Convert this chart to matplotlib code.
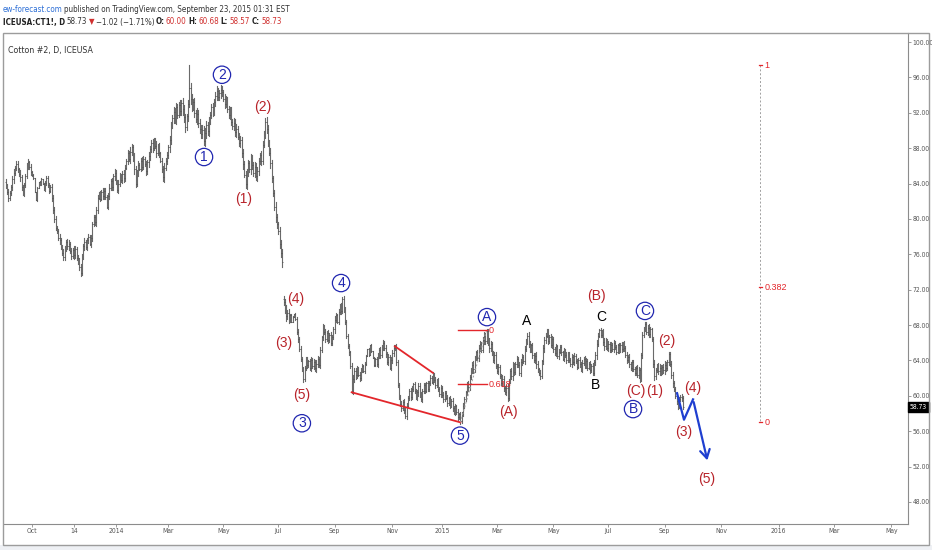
import matplotlib
matplotlib.use('Agg')
import matplotlib.pyplot as plt
import matplotlib.transforms as mtransforms
from matplotlib.collections import LineCollection
from matplotlib.patches import Rectangle
import numpy as np
import pandas as pd

# Daily closes (Cotton #2, ICEUSA, daily)
close_2013 = [83.8, 83.0, 82.4, 82.9, 83.6, 84.5, 85.2, 85.8, 86.2, 85.6,
              85.1, 84.7, 83.6, 82.9, 83.8, 84.9, 86.0, 86.4, 85.9, 85.3,
              85.0, 84.6, 83.0, 82.1, 83.5, 84.2, 83.9, 84.5, 84.0, 83.4,
              84.1, 84.6, 83.8, 83.2, 83.6, 82.4, 81.0, 80.0, 79.0, 78.6,
              77.9, 77.6, 76.8, 76.2, 75.7, 76.6, 77.4, 76.9, 77.2, 76.4,
              75.8, 76.5, 75.9, 76.6, 75.6, 75.2, 74.6, 73.9, 75.8, 76.9,
              77.4, 76.8, 77.6, 78.0, 77.2, 77.8, 79.4, 80.2, 79.6, 81.0,
              82.4, 82.9, 82.3, 83.1, 82.6, 83.2, 82.5, 81.4, 82.6, 83.5,
              84.3, 83.6, 84.8, 85.2]
close_2014 = [84.2, 83.3, 84.0, 84.9, 84.4, 85.1,
              84.6, 85.8, 86.6, 87.4, 86.8, 87.6, 88.1, 86.9, 85.6, 84.0,
              85.2, 86.1, 85.7, 86.6, 85.9, 86.8, 86.2, 85.4, 86.4, 87.1,
              87.9, 88.6, 88.0, 88.9, 88.3, 87.5, 88.2, 87.4, 86.6, 85.6,
              84.7, 85.8, 86.6, 87.2, 88.1, 88.9, 90.6, 91.4, 92.1, 91.2,
              92.6, 91.8, 92.9, 92.2, 93.1, 92.4, 91.5, 90.4, 91.6, 93.0,
              94.8, 93.6, 92.7, 93.2, 92.0, 91.3, 91.9, 90.8, 90.2, 89.6,
              90.1, 88.8, 89.7, 90.6, 89.9, 91.0, 91.8, 92.6, 92.1, 93.2,
              93.9, 94.5, 93.8, 94.2, 94.6, 94.3, 93.6, 93.0, 93.5, 92.4,
              91.8, 92.2, 91.0, 90.5, 90.9, 89.8, 90.2, 89.3, 88.6, 88.9,
              87.4, 86.2, 85.0, 83.9, 85.2, 86.3, 85.6, 86.8, 86.1, 85.2,
              85.9, 84.8, 85.4, 86.5, 87.2, 86.6, 88.4, 89.6, 91.0, 90.2,
              88.6, 87.5, 86.3, 84.6, 82.9, 81.4, 80.2, 79.4, 78.6, 77.2,
              76.1, 75.1, 70.6, 69.8, 69.0, 69.4, 68.6, 69.1, 68.4, 68.9,
              69.3, 68.7, 67.2, 66.4, 65.3, 64.2, 63.0, 61.9, 63.2, 64.1,
              63.5, 63.9, 63.2, 64.0, 63.4, 63.8, 63.1, 63.6, 64.2, 63.5,
              65.2, 66.6, 67.8, 67.2, 66.4, 67.1, 66.3, 66.9, 66.0, 66.7,
              67.5, 68.6, 69.1, 68.4, 69.5, 70.2, 69.6, 71.0, 69.8, 68.3,
              66.8, 65.6, 64.9, 63.4, 60.6, 61.9, 62.8, 62.3, 63.1, 62.4,
              62.0, 62.9, 63.4, 62.8, 63.6, 64.5, 65.3, 64.6, 65.8, 65.1,
              64.3, 63.5, 64.2, 63.6, 64.5, 65.2, 64.6, 65.5, 66.0, 65.4,
              64.7, 63.8, 64.4, 63.2, 64.1, 64.8, 65.4, 65.6, 63.8, 61.2,
              59.9, 59.1, 58.6, 59.3, 58.4, 57.7, 58.9, 59.8, 60.5, 59.9,
              60.8, 61.3, 60.6, 59.8, 60.4, 61.1, 60.2, 59.6, 60.5, 61.2,
              60.6, 61.4, 60.8, 61.5, 62.0, 61.6, 62.4, 61.8, 61.2, 61.7,
              60.8, 60.2, 60.9, 60.1, 59.6, 60.3]
close_2015 = [59.8, 59.2, 59.7, 58.9,
              59.4, 58.6, 58.1, 58.8, 58.2, 57.6, 57.9, 57.1, 58.0, 58.9,
              59.6, 60.4, 61.3, 61.0, 62.1, 62.9, 63.5, 63.0, 64.2, 64.9,
              64.3, 65.4, 65.9, 65.2, 66.3, 66.8, 66.2, 67.3, 66.1, 65.4,
              65.9, 64.8, 64.1, 64.6, 63.4, 62.8, 63.3, 62.2, 61.5, 61.9,
              60.9, 60.4, 60.9, 59.8, 61.6, 62.8, 62.2, 63.4, 62.7, 63.6,
              64.2, 63.5, 62.6, 63.8, 64.4, 63.9, 65.3, 66.2, 66.8, 65.9,
              65.2, 65.7, 64.6, 64.0, 64.5, 63.6, 63.0, 62.6, 62.2, 63.9,
              65.4, 66.3, 66.8, 67.3, 66.2, 66.7, 65.8, 66.4, 65.3, 64.8,
              65.6, 64.5, 65.0, 65.5, 64.9, 64.2, 65.1, 64.6, 64.0, 64.7,
              64.1, 63.6, 64.4, 63.8, 64.5, 63.9, 63.3, 64.1, 63.6, 63.0,
              63.7, 64.2, 63.5, 63.9, 63.2, 63.6, 62.9, 63.4, 62.6, 63.8,
              64.6, 65.9, 66.8, 67.4, 66.9, 67.2, 66.1, 65.6, 66.2, 65.4,
              65.9, 65.2, 65.8, 65.3, 66.0, 65.5, 65.0, 65.7, 65.1, 65.8,
              65.3, 65.9, 65.4, 64.6, 64.0, 64.4, 63.6, 63.1, 63.8, 63.0,
              62.6, 63.2, 62.4, 62.9, 61.9, 64.6, 66.9, 67.6, 68.1, 67.2,
              67.7, 67.0, 67.5, 66.4, 63.6, 62.2, 62.9, 63.4, 62.8, 63.2,
              62.7, 63.3, 62.9, 63.5, 63.1, 63.8, 64.7, 63.6, 62.3, 61.4,
              60.8, 60.0, 59.4, 58.9, 59.6, 59.9, 59.75, 58.73]
# wick length beyond open/close on each side, tenths of a point
wick_2013 = [3, 2, 4, 3, 2, 3, 4, 2, 3, 3, 2, 4, 3, 2, 3, 2, 3, 4, 2, 3,
             1, 1, 0, 0, 1, 0, 1, 1, 0, 1, 2, 3, 2, 3, 2, 4, 3, 4, 3, 2,
             3, 4, 2, 3, 4, 3, 2, 3, 4, 2, 3, 2, 4, 3, 2, 3, 4, 3, 2, 3,
             4, 2, 3, 3, 2, 4, 3, 2, 3, 4, 3, 2, 3, 2, 4, 3, 3, 2, 3, 4,
             2, 3, 3, 4]
wick_2014 = [3, 2, 4, 3, 2, 3,
             4, 3, 2, 4, 3, 5, 4, 3, 5, 4, 3, 4, 2, 3, 4, 3, 2, 4, 3, 5,
             4, 3, 4, 2, 3, 5, 3, 4, 2, 3, 4, 5, 3, 4, 3, 5, 4, 3, 5, 4,
             5, 4, 3, 5, 4, 6, 5, 4, 3, 5, 4, 6, 5, 4, 5, 3, 6, 4, 5, 4,
             5, 4, 6, 5, 4, 5, 3, 4, 5, 4, 4, 5, 3, 4, 5, 4, 3, 5, 4, 3,
             4, 5, 4, 3, 5, 4, 5, 3, 4, 5, 4, 5, 3, 4, 5, 4, 3, 5, 4, 3,
             5, 4, 5, 4, 3, 5, 4, 3, 4, 5, 4, 3, 5, 4, 3, 4, 5, 4, 3, 5,
             4, 5, 3, 4, 5, 3, 4, 2, 1, 1, 0, 1, 2, 3, 2, 3, 2, 3, 2, 3,
             3, 2, 3, 4, 3, 4, 3, 4, 3, 2, 3, 2, 3, 2, 3, 2, 3, 2, 3, 2,
             3, 4, 3, 2, 3, 2, 3, 2, 3, 2, 3, 2, 3, 2, 3, 4, 3, 4, 3, 2,
             3, 2, 2, 1, 2, 1, 0, 1, 0, 1, 0, 1, 1, 2, 3, 2, 3, 2, 3, 2,
             3, 2, 3, 2, 3, 4, 3, 2, 3, 2, 3, 2, 3, 2, 3, 2, 3, 2, 3, 4,
             3, 2, 3, 2, 3, 4, 3, 2, 3, 2, 3, 2, 3, 2, 3, 2, 3, 2, 3, 2,
             3, 2, 3, 2, 3, 2]
wick_2015 = [2, 3, 2, 3,
             2, 3, 2, 3, 2, 3, 2, 3, 2, 3, 3, 2, 3, 4, 3, 2, 3, 4, 3, 2,
             3, 4, 3, 2, 3, 4, 3, 2, 3, 4, 3, 2, 3, 4, 3, 2, 3, 2, 3, 4,
             3, 2, 3, 4, 3, 2, 3, 4, 3, 2, 3, 2, 3, 4, 3, 2, 3, 2, 3, 4,
             3, 2, 3, 2, 3, 4, 3, 2, 3, 2, 3, 4, 3, 2, 3, 2, 3, 4, 3, 2,
             3, 2, 3, 2, 3, 2, 3, 2, 3, 2, 3, 2, 3, 2, 3, 2, 3, 2, 3, 2,
             3, 2, 3, 4, 3, 2, 3, 2, 3, 2, 3, 4, 3, 2, 3, 2, 3, 4, 3, 2,
             3, 2, 3, 2, 3, 2, 3, 2, 3, 2, 3, 2, 3, 2, 3, 2, 3, 2, 3, 2,
             3, 2, 3, 4, 3, 2, 3, 2, 3, 2, 3, 4, 3, 2, 3, 4, 3, 2, 3, 4,
             3, 2, 3, 4, 3, 2, 3, 2, 3, 4, 3, 2, 3, 4, 3, 2, 3, 2]
first_open = 84.2
# bars whose open gapped away from previous close (contract roll)
gap_idx = [212]
gap_open = [71.0]
# long wicks visible on the chart
spike_idx = [137, 140]
spike_hi = [91.8, 97.4]
spike_lo = [89.8, 93.0]

holidays = ['2013-09-02', '2013-11-28', '2013-12-25', '2014-01-01', '2014-01-20',
            '2014-02-17', '2014-04-18', '2014-05-26', '2014-07-04', '2014-09-01',
            '2014-11-27', '2014-12-25', '2015-01-01', '2015-01-19', '2015-02-16',
            '2015-04-03', '2015-05-25', '2015-07-03', '2015-09-07']

tick_dates = ['2013-10-01', '2013-11-14', '2014-01-02', '2014-03-03', '2014-05-01',
              '2014-07-01', '2014-09-02', '2014-11-03', '2014-12-29', '2015-03-02',
              '2015-05-01', '2015-07-01', '2015-09-01', '2015-11-02', '2016-01-01',
              '2016-03-01', '2016-05-02']
tick_labels = ['Oct', '14', '2014', 'Mar', 'May', 'Jul', 'Sep', 'Nov', '2015', 'Mar',
               'May', 'Jul', 'Sep', 'Nov', '2016', 'Mar', 'May']
price_ticks = np.arange(48, 101, 4)

# wave labels: (text, date index, price, kind)
wave_labels = [
    ('1', 151.3, 87.0, 'circ'), ('2', 165, 96.3, 'circ'),
    ('(1)', 181.8, 82.25, 'red'), ('(2)', 196.3, 92.65, 'red'),
    ('(4)', 221.5, 70.95, 'red'), ('(3)', 212.4, 66.0, 'red'),
    ('(5)', 226, 60.1, 'red'), ('3', 226, 56.9, 'circ'),
    ('4', 255.9, 72.75, 'circ'), ('5', 346.7, 55.5, 'circ'),
    ('A', 367.3, 68.9, 'circ'), ('(A)', 383.4, 58.2, 'red'),
    ('A', 397.9, 68.5, 'blk'), ('(B)', 450.5, 71.3, 'red'),
    ('C', 454.4, 68.9, 'blk'), ('B', 449.8, 61.2, 'blk'),
    ('C', 487.9, 69.6, 'circ'), ('(C)', 481, 60.55, 'red'),
    ('(1)', 495.6, 60.55, 'red'), ('B', 478.8, 58.5, 'circ'),
    ('(2)', 504.7, 66.2, 'red'), ('(4)', 524.6, 60.9, 'red'),
    ('(3)', 517.7, 55.9, 'red'), ('(5)', 535.3, 50.6, 'red'),
]
# wedge lines (index, price)
wedge_low = [(264, 60.4), (347, 57.0)]
wedge_up = [(297, 65.6), (326, 62.6)]
# fib retracement of wave A
fibA_levels = [67.4, 61.3]
fibA_text = ['0', '0.618']
fibA_span = (345, 367)
fibA_diag = [(347, 57.0), (367, 67.4)]
# big fib on the right
fib_x = 576
fib_levels = [97.4, 72.3, 57.0]
fib_text = ['1', '0.382', '0']
# projected path
proj_x = [512.4, 517.7, 524.6]
proj_y = [60.3, 57.3, 59.6]
proj_end = (536, 52.4)

BLUE = '#2127b0'
RED = '#b8232a'
LINE_RED = '#e3262b'
SANS = ['Liberation Sans', 'DejaVu Sans']
COND = dict(family='DejaVu Sans', fontstretch='condensed')

closes = np.array(close_2013 + close_2014 + close_2015)
wicks = np.array(wick_2013 + wick_2014 + wick_2015) / 10.0
days = pd.bdate_range('2013-09-03', '2016-07-29', freq='C', holidays=holidays)
idx = np.arange(len(closes))
opens = np.concatenate([[first_open], closes[:-1]])
for i, o in zip(gap_idx, gap_open):
    opens[i] = o
highs = np.maximum(opens, closes) + wicks
lows = np.minimum(opens, closes) - wicks
for i, h, l in zip(spike_idx, spike_hi, spike_lo):
    highs[i] = max(highs[i], h)
    lows[i] = min(lows[i], l)

W, H = 932, 550
fig = plt.figure(figsize=(W / 100, H / 100), dpi=100, facecolor='white')

# bottom grey band and chart frame
fig.patches.append(Rectangle((0, 0), 1, 5 / H, transform=fig.transFigure,
                             facecolor='#eef0f4', edgecolor='none', zorder=0))
fig.patches.append(Rectangle((3 / W, 5 / H), 926 / W, 512 / H, transform=fig.transFigure,
                             facecolor='none', edgecolor='#9c9c9c', lw=1.0, zorder=5))

ax = fig.add_axes([4 / W, 26 / H, 904 / W, 491 / H])
ax.set_xlim(-1.4, 688.7)
ax.set_ylim(45.51, 101.02)
for s in ['top', 'left']:
    ax.spines[s].set_visible(False)
for s in ['right', 'bottom']:
    ax.spines[s].set_color('#8c8c8c')
    ax.spines[s].set_linewidth(0.8)

# OHLC bars: vertical range plus open (left) and close (right) ticks
bar_col = '#6a6a6a'
segs = [[(i, lo), (i, hi)] for i, lo, hi in zip(idx, lows, highs)]
ax.add_collection(LineCollection(segs, colors=bar_col, linewidths=0.8,
                                 capstyle='projecting', zorder=2))
ticks = [[(i - 0.45, o), (i, o)] for i, o in zip(idx, opens)]
ticks += [[(i, c), (i + 0.45, c)] for i, c in zip(idx, closes)]
ax.add_collection(LineCollection(ticks, colors='#444444', linewidths=0.5, zorder=2))

# axes ticks
ax.yaxis.tick_right()
ax.set_yticks(price_ticks)
ax.set_yticklabels([f'{v:.2f}' for v in price_ticks])
tick_pos = [days.searchsorted(pd.Timestamp(d)) for d in tick_dates]
ax.set_xticks(tick_pos)
ax.set_xticklabels(tick_labels)
ax.tick_params(axis='both', length=2, width=0.6, color='#8c8c8c', labelsize=4.9,
               labelcolor='#555555', pad=1.2)
for lab in ax.get_xticklabels() + ax.get_yticklabels():
    lab.set_family('DejaVu Sans')
    lab.set_fontstretch('condensed')

# last price tag
blend = mtransforms.blended_transform_factory(ax.transAxes, ax.transData)
ax.text(1.002, closes[-1], f'{closes[-1]:.2f}', transform=blend, color='white',
        fontsize=4.9, va='center', ha='left', clip_on=False,
        bbox=dict(boxstyle='square,pad=0.3', fc='black', ec='black'), **COND)

# wedge
for ln in (wedge_low, wedge_up):
    ax.plot([p[0] for p in ln], [p[1] for p in ln], color=LINE_RED, lw=1.3, zorder=3)

# fib of wave A
ax.plot([p[0] for p in fibA_diag], [p[1] for p in fibA_diag], color='#9e9e9e',
        lw=0.7, ls=(0, (2, 2)), zorder=3)
for lv, tx in zip(fibA_levels, fibA_text):
    ax.plot(fibA_span, [lv, lv], color=LINE_RED, lw=1.0, zorder=3)
    ax.text(fibA_span[1] + 1.5, lv, tx, color=LINE_RED, fontsize=6.5, family=SANS,
            va='center', ha='left', zorder=4)

# big fib on the right
ax.plot([fib_x, fib_x], [fib_levels[0], fib_levels[-1]], color='#a0a0a0', lw=0.7,
        ls=(0, (2, 2)), zorder=3)
for lv, tx in zip(fib_levels, fib_text):
    ax.plot([fib_x - 1, fib_x + 1], [lv, lv], color=LINE_RED, lw=0.9, zorder=3)
    ax.text(fib_x + 3, lv, tx, color=LINE_RED, fontsize=6.5, family=SANS,
            va='center', ha='left', zorder=4)

# projected path
ax.plot(proj_x, proj_y, color='#1f3fd0', lw=1.6, zorder=4)
ax.annotate('', xy=proj_end, xytext=(proj_x[-1], proj_y[-1]),
            arrowprops=dict(arrowstyle='->,head_length=0.6,head_width=0.35',
                            color='#1f3fd0', lw=1.6), zorder=4)

# wave labels
for txt, x, y, kind in wave_labels:
    if kind == 'circ':
        ax.text(x, y, txt, color=BLUE, fontsize=10, family=SANS, ha='center',
                va='center', zorder=5,
                bbox=dict(boxstyle='circle,pad=0.12', fc='white', ec=BLUE, lw=0.9))
    elif kind == 'red':
        ax.text(x, y, txt, color=RED, fontsize=10, family=SANS, ha='center',
                va='center', zorder=5)
    else:
        ax.text(x, y, txt, color='black', fontsize=10, family=SANS, ha='center',
                va='center', zorder=5)

# chart title inside pane
fig.text(8 / W, 1 - 51 / H, 'Cotton #2, D, ICEUSA', color='#333333', fontsize=6.3,
         va='center', ha='left', **COND)

# header rows drawn piece by piece
renderer = fig.canvas.get_renderer()


def draw_pieces(x_px, y_px, pieces, size):
    for txt, color, weight in pieces:
        t = fig.text(x_px / W, 1 - y_px / H, txt, color=color, fontsize=size,
                     fontweight=weight, va='center', ha='left', **COND)
        x_px += t.get_window_extent(renderer).width + 1.5


dark = '#333333'
val_red = '#d0302f'
draw_pieces(3, 9, [('ew-forecast.com', '#2d6fd6', 'normal'),
                   ('published on TradingView.com, September 23, 2015 01:31 EST', dark, 'normal')], 5.8)
draw_pieces(3, 22, [('ICEUSA:CT1!, D', '#222222', 'bold'), ('58.73', dark, 'normal'),
                    ('\u25bc', val_red, 'normal'), ('\u22121.02 (\u22121.71%)', dark, 'normal'),
                    ('O:', '#222222', 'bold'), ('60.00', val_red, 'normal'),
                    ('H:', '#222222', 'bold'), ('60.68', val_red, 'normal'),
                    ('L:', '#222222', 'bold'), ('58.57', val_red, 'normal'),
                    ('C:', '#222222', 'bold'), ('58.73', val_red, 'normal')], 5.8)

fig.savefig('out.png', dpi=100, facecolor=fig.get_facecolor())
